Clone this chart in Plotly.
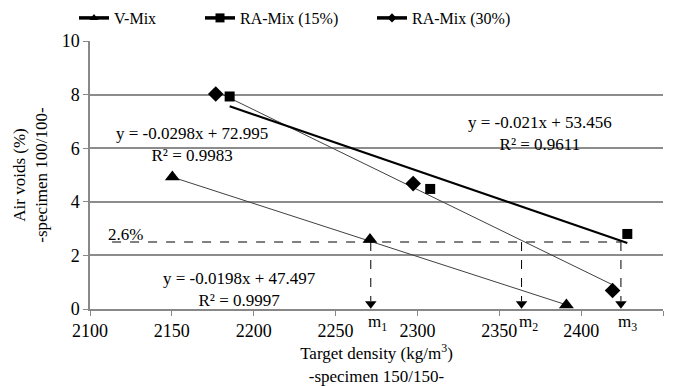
import plotly.graph_objects as go

# ---- data ----
v_mix_x = [2150.3, 2271.0, 2391.0]
v_mix_y = [4.93, 2.59, 0.15]
ra15_x = [2185.3, 2307.8, 2428.2]
ra15_y = [7.93, 4.48, 2.80]
ra30_x = [2176.8, 2297.4, 2419.2]
ra30_y = [8.02, 4.68, 0.69]

# trendline coefficients (slope, intercept) as printed
v_mix_fit = (-0.0198, 47.497)
ra15_fit = (-0.021, 53.456)
ra30_fit = (-0.0298, 72.995)

eq_texts = ["y = -0.0198x + 47.497<br>R² = 0.9997",
            "y = -0.021x + 53.456<br>R² = 0.9611",
            "y = -0.0298x + 72.995<br>R² = 0.9983"]

target_level = 2.5
target_label = "2.6%"
target_x_start = 2113.5
m_x = [2271.5, 2363.6, 2424.3]
m_labels = ["m<sub>1</sub>", "m<sub>2</sub>", "m<sub>3</sub>"]

x_ticks = [2100, 2150, 2200, 2250, 2300, 2350, 2400, 2450]
y_ticks = [0, 2, 4, 6, 8, 10]

FONT = "Liberation Serif, Times New Roman, serif"

fig = go.Figure()

def trend(xs, fit):
    x0, x1 = min(xs), max(xs)
    return [x0, x1], [fit[0] * x0 + fit[1], fit[0] * x1 + fit[1]]

# trendlines
tx, ty = trend(v_mix_x, v_mix_fit)
fig.add_trace(go.Scatter(x=tx, y=ty, mode="lines", line=dict(color="#404040", width=1), showlegend=False, hoverinfo="skip"))
tx, ty = trend(ra30_x, ra30_fit)
fig.add_trace(go.Scatter(x=tx, y=ty, mode="lines", line=dict(color="#404040", width=1), showlegend=False, hoverinfo="skip"))
tx, ty = trend(ra15_x, ra15_fit)
fig.add_trace(go.Scatter(x=tx, y=ty, mode="lines", line=dict(color="black", width=2.2), showlegend=False, hoverinfo="skip"))

# dashed target line
fig.add_trace(go.Scatter(x=[target_x_start, max(m_x)], y=[target_level, target_level], mode="lines",
                         line=dict(color="black", width=1, dash="dash"), showlegend=False, hoverinfo="skip"))
for mx in m_x:
    fig.add_trace(go.Scatter(x=[mx, mx], y=[target_level, 0.3], mode="lines",
                             line=dict(color="black", width=1, dash="dash"), showlegend=False, hoverinfo="skip"))
fig.add_trace(go.Scatter(x=m_x, y=[0.2] * len(m_x), mode="markers",
                         marker=dict(symbol="triangle-down", size=10, color="black"),
                         showlegend=False, hoverinfo="skip"))

# data markers
fig.add_trace(go.Scatter(x=v_mix_x, y=v_mix_y, mode="markers",
                         marker=dict(symbol="triangle-up", size=13, color="black"), showlegend=False))
fig.add_trace(go.Scatter(x=ra15_x, y=ra15_y, mode="markers",
                         marker=dict(symbol="square", size=10, color="black"), showlegend=False))
fig.add_trace(go.Scatter(x=ra30_x, y=ra30_y, mode="markers",
                         marker=dict(symbol="diamond", size=12, color="black"), showlegend=False))

# legend entries (three separate legends for positioning)
fig.add_trace(go.Scatter(x=[None], y=[None], mode="lines+markers", name="V-Mix",
                         line=dict(color="black", width=3.5),
                         marker=dict(symbol="triangle-up", size=8, color="black"), legend="legend"))
fig.add_trace(go.Scatter(x=[None], y=[None], mode="lines+markers", name="RA-Mix (15%)",
                         line=dict(color="black", width=3.5),
                         marker=dict(symbol="square", size=9, color="black"), legend="legend2"))
fig.add_trace(go.Scatter(x=[None], y=[None], mode="lines+markers", name="RA-Mix (30%)",
                         line=dict(color="black", width=3.5),
                         marker=dict(symbol="diamond", size=7, color="black"), legend="legend3"))

ann_font = dict(family=FONT, size=17, color="black")
annotations = [
    dict(x=2191.4, y=0.72, text=eq_texts[0]),
    dict(x=2374.8, y=6.54, text=eq_texts[1]),
    dict(x=2162.1, y=6.13, text=eq_texts[2]),
    dict(x=2121.8, y=2.77, text=target_label),
]
for a in annotations:
    a.update(xref="x", yref="y", showarrow=False, font=ann_font, align="center")
for mx, ml in zip(m_x, m_labels):
    annotations.append(dict(x=mx, y=0, xref="x", yref="y", text=ml, showarrow=False,
                            xanchor="left", yanchor="top", xshift=-5, yshift=-1, font=ann_font))

# page body has an 8px default margin, so the figure is offset by 8px
W, H = 672, 378
L, T = 82, 33
R = W - (663 - 8)
B = round(H - (309.3 - 8))
PW = W - L - R

legend_common = dict(orientation="h", xref="paper", yref="container", yanchor="middle",
                     font=dict(family=FONT, size=16, color="black"), itemwidth=30,
                     bgcolor="rgba(0,0,0,0)", tracegroupgap=0)
ly = 1 - 10 / H
fig.update_layout(
    width=W, height=H,
    margin=dict(l=L, r=R, t=T, b=B, autoexpand=False),
    paper_bgcolor="white", plot_bgcolor="white",
    font=dict(family=FONT, size=17, color="black"),
    annotations=annotations,
    legend=dict(x=(66 - L) / PW, y=ly, xanchor="left", **legend_common),
    legend2=dict(x=(192 - L) / PW, y=ly, xanchor="left", **legend_common),
    legend3=dict(x=(364 - L) / PW, y=ly, xanchor="left", **legend_common),
    xaxis=dict(range=[2100, 2450], tickvals=x_ticks, showgrid=False, zeroline=False,
               showline=True, linecolor="#888888", linewidth=1.5, ticks="outside", ticklen=5,
               tickcolor="#888888", tickfont=dict(family=FONT, size=18),
               title=dict(text="Target density (kg/m<sup>3</sup>)<br>-specimen 150/150-",
                          font=dict(family=FONT, size=17), standoff=6)),
    yaxis=dict(range=[0, 10], tickvals=y_ticks, showgrid=True, gridcolor="#8c8c8c", gridwidth=1.5,
               zeroline=False, showline=True, linecolor="#888888", linewidth=1.5,
               ticks="outside", ticklen=5, tickcolor="#888888", tickfont=dict(family=FONT, size=18),
               title=dict(text="Air voids (%)<br>-specimen 100/100-",
                          font=dict(family=FONT, size=17), standoff=10)),
)

fig.write_html("out.html")
